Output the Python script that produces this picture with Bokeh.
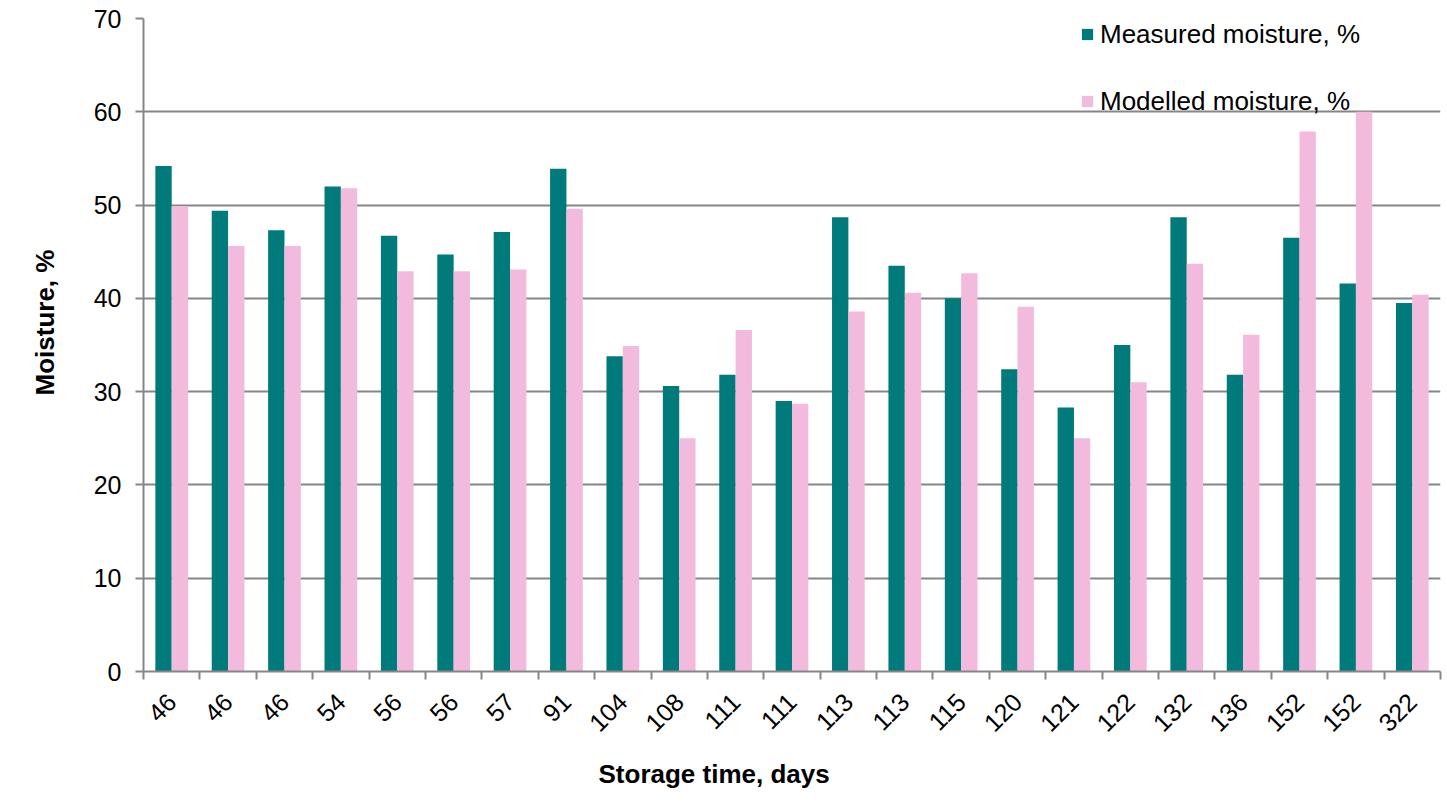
import math
from bokeh.plotting import figure
from bokeh.models import Range1d, FixedTicker, Legend, LegendItem, Title
from bokeh.embed import file_html
from bokeh.resources import INLINE

storage_days = ["46", "46", "46", "54", "56", "56", "57", "91", "104", "108", "111", "111",
                "113", "113", "115", "120", "121", "122", "132", "136", "152", "152", "322"]
measured = [54.2, 49.4, 47.3, 52.0, 46.7, 44.7, 47.1, 53.9, 33.8, 30.6, 31.8, 29.0,
            48.7, 43.5, 40.0, 32.4, 28.3, 35.0, 48.7, 31.8, 46.5, 41.6, 39.5]
modelled = [49.9, 45.6, 45.6, 51.8, 42.9, 42.9, 43.1, 49.6, 34.9, 25.0, 36.6, 28.7,
            38.6, 40.6, 42.7, 39.1, 25.0, 31.0, 43.7, 36.1, 57.9, 60.0, 40.4]
y_ticks = [0, 10, 20, 30, 40, 50, 60, 70]

TEAL = "#007A7A"
PINK = "#F2BBDD"
GRID = "#868686"
FONT = "Liberation Sans"

n = len(storage_days)
xs = list(range(n))
bw = 0.29

p = figure(width=1447, height=805, output_backend="svg", toolbar_location=None,
           x_range=Range1d(-0.5, n - 0.5), y_range=Range1d(0, 70),
           min_border_left=142, min_border_right=7, min_border_top=18, min_border_bottom=134)
p.outline_line_color = None
p.background_fill_color = "white"

r1 = p.vbar(x=[x - bw / 2 for x in xs], top=measured, width=bw, fill_color=TEAL, line_color=None)
r2 = p.vbar(x=[x + bw / 2 for x in xs], top=modelled, width=bw, fill_color=PINK, line_color=None)

# x axis
p.xaxis.ticker = FixedTicker(ticks=xs, minor_ticks=[x - 0.5 for x in range(n + 1)])
p.xaxis.major_label_overrides = {i: s for i, s in enumerate(storage_days)}
p.xaxis.major_label_orientation = math.pi / 4
p.xaxis.major_tick_line_color = None
p.xaxis.minor_tick_line_color = GRID
p.xaxis.minor_tick_line_width = 2
p.xaxis.minor_tick_out = 8
p.xaxis.minor_tick_in = 0
p.xaxis.axis_line_color = GRID
p.xaxis.axis_line_width = 2
p.xaxis.major_label_text_font = FONT
p.xaxis.major_label_text_font_size = "25px"
p.xaxis.major_label_text_color = "black"
p.xaxis.major_label_standoff = 18

# y axis
p.yaxis.ticker = FixedTicker(ticks=y_ticks)
p.yaxis.major_tick_line_color = GRID
p.yaxis.major_tick_line_width = 2
p.yaxis.major_tick_out = 8
p.yaxis.major_tick_in = 0
p.yaxis.minor_tick_line_color = None
p.yaxis.axis_line_color = GRID
p.yaxis.axis_line_width = 2
p.yaxis.major_label_text_font = FONT
p.yaxis.major_label_text_font_size = "25px"
p.yaxis.major_label_text_color = "black"
p.yaxis.major_label_standoff = 14

p.xgrid.grid_line_color = None
p.ygrid.ticker = FixedTicker(ticks=y_ticks)
p.ygrid.grid_line_color = GRID
p.ygrid.grid_line_width = 2

# axis titles (placed like the reference, not centred)
xt = Title(text="Storage time, days", align="left", offset=455, standoff=30,
           vertical_align="middle",
           text_font=FONT, text_font_size="26px", text_font_style="bold", text_color="black")
p.add_layout(xt, "below")
yt = Title(text="Moisture, %", align="left", offset=276, standoff=58,
           vertical_align="top",
           text_font=FONT, text_font_size="26px", text_font_style="bold", text_color="black")
p.add_layout(yt, "left")

legend = Legend(items=[LegendItem(label="Measured moisture, %", renderers=[r1]),
                       LegendItem(label="Modelled moisture, %", renderers=[r2])],
                location=(937, 554), orientation="vertical",
                glyph_width=14, glyph_height=14, label_height=32, label_standoff=6,
                spacing=35, padding=0, margin=0,
                label_text_font=FONT, label_text_font_size="26px", label_text_color="black",
                background_fill_alpha=0, border_line_color=None)
p.add_layout(legend, "center")

open("out.html", "w").write(file_html(p, INLINE))
